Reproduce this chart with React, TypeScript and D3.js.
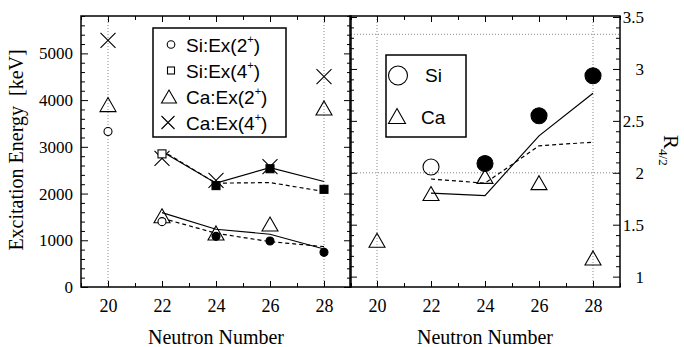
import React, { useEffect, useRef } from 'react';
import * as d3 from 'd3';

// experimental points
const neutrons = [20, 22, 24, 26, 28];
const siE2 = [3328, 1399, 1084, 986, 742];
const siFilled = [false, false, true, true, true];
const siE4N = [22, 24, 26, 28];
const siE4 = [2849, 2170, 2531, 2090];
const siE4Filled = [false, true, true, true];
const caE2 = [3904, 1525, 1157, 1347, 3832];
const caE4 = [5279, 2752, 2283, 2575, 4503];

// calculations (solid / dashed)
const theoryN = [22, 24, 26, 28];
const e2Solid = [1592, 1236, 1129, 814];
const e2Dashed = [1472, 1150, 971, 864];
const e4Solid = [2900, 2222, 2556, 2257];
const e4Dashed = [2920, 2222, 2235, 2043];

// R4/2 ratios
const siRN = [22, 24, 26, 28];
const siR = [2.055, 2.09, 2.55, 2.935];
const siRFilled = [false, true, true, true];
const caR = [1.35, 1.8, 1.965, 1.905, 1.18];
const rSolid = [1.805, 1.78, 2.356, 2.766];
const rDashed = [1.94, 1.9, 2.26, 2.295];
const rGuides = [2, 10 / 3];

const energyTicks = [0, 1000, 2000, 3000, 4000, 5000];
const ratioTicks = [1, 1.5, 2, 2.5, 3, 3.5];
const nTicks = [20, 22, 24, 26, 28];

const SERIF = '"Liberation Serif", "Times New Roman", serif';
const SANS = '"Liberation Sans", Arial, sans-serif';

function trianglePath(w: number, h: number) {
  return `M0,${-h / 2}L${w / 2},${h / 2}L${-w / 2},${h / 2}Z`;
}
function crossPath(s: number) {
  return `M${-s},${-s}L${s},${s}M${-s},${s}L${s},${-s}`;
}

export default function App() {
  const svgRef = useRef<SVGSVGElement>(null);

  useEffect(() => {
    if (!svgRef.current) return;
    const svg = d3.select(svgRef.current);
    svg.selectAll('*').remove();

    const top = 16, bottom = 287;
    const xL = d3.scaleLinear().domain([19, 29]).range([81, 351]);
    const xR = d3.scaleLinear().domain([19, 29]).range([350, 620]);
    const yE = d3.scaleLinear().domain([0, 5800]).range([bottom, top]);
    const yR = d3.scaleLinear().domain([0.9, 3.51]).range([bottom, top]);

    // guide lines
    const guides = svg.append('g')
      .attr('stroke', '#888').attr('stroke-width', 1).attr('stroke-dasharray', '1,2');
    [20, 28].forEach(n => {
      guides.append('line').attr('x1', xL(n)).attr('x2', xL(n)).attr('y1', top).attr('y2', bottom);
      guides.append('line').attr('x1', xR(n)).attr('x2', xR(n)).attr('y1', top).attr('y2', bottom);
    });
    rGuides.forEach(v => {
      guides.append('line').attr('x1', 351).attr('x2', 620).attr('y1', yR(v)).attr('y2', yR(v));
    });

    // axes helper: major + minor inward ticks
    const styleAxis = (g: any) => {
      g.select('.domain').remove();
      g.selectAll('line').attr('stroke', '#000').attr('stroke-width', 1);
      g.selectAll('text').attr('font-family', SERIF).attr('fill', '#000');
    };

    const panels = [
      { x: xL, y: yE, yTicks: energyTicks, yMinor: d3.range(0, 5801, 200), left: 81, right: 351 },
      { x: xR, y: yR, yTicks: ratioTicks, yMinor: d3.range(10, 36).map(d => d / 10), left: 350, right: 620 },
    ];

    panels.forEach((p, i) => {
      // bottom
      svg.append('g').attr('transform', `translate(0,${bottom})`)
        .call(d3.axisBottom(p.x).tickValues(nTicks).tickSize(-6).tickPadding(12).tickFormat(d3.format('d')))
        .call(styleAxis).selectAll('text').attr('font-size', 18);
      svg.append('g').attr('transform', `translate(0,${bottom})`)
        .call(d3.axisBottom(p.x).tickValues(d3.range(19, 30, 2)).tickSize(-4).tickFormat(() => ''))
        .call(styleAxis);
      // top
      svg.append('g').attr('transform', `translate(0,${top})`)
        .call(d3.axisTop(p.x).tickValues(nTicks).tickSize(-6).tickFormat(() => ''))
        .call(styleAxis);
      svg.append('g').attr('transform', `translate(0,${top})`)
        .call(d3.axisTop(p.x).tickValues(d3.range(19, 30, 2)).tickSize(-4).tickFormat(() => ''))
        .call(styleAxis);
      // left
      const lg = svg.append('g').attr('transform', `translate(${p.left},0)`)
        .call(d3.axisLeft(p.y).tickValues(p.yTicks).tickSize(-7).tickPadding(8)
          .tickFormat(i === 0 ? d3.format('d') : () => ''))
        .call(styleAxis);
      lg.selectAll('text').attr('font-size', 17);
      svg.append('g').attr('transform', `translate(${p.left},0)`)
        .call(d3.axisLeft(p.y).tickValues(p.yMinor.filter(v => !p.yTicks.includes(v))).tickSize(-4).tickFormat(() => ''))
        .call(styleAxis);
      // right
      const rg = svg.append('g').attr('transform', `translate(${p.right},0)`)
        .call(d3.axisRight(p.y).tickValues(p.yTicks).tickSize(-7)
          .tickFormat(i === 1 ? (d: any) => String(d) : () => ''))
        .call(styleAxis);
      rg.selectAll('text').attr('font-size', 17).attr('text-anchor', 'end').attr('x', 24);
      svg.append('g').attr('transform', `translate(${p.right},0)`)
        .call(d3.axisRight(p.y).tickValues(p.yMinor.filter(v => !p.yTicks.includes(v))).tickSize(-4).tickFormat(() => ''))
        .call(styleAxis);

      // frame
      svg.append('rect')
        .attr('x', p.left).attr('y', top)
        .attr('width', p.right - p.left).attr('height', bottom - top)
        .attr('fill', 'none').attr('stroke', '#000').attr('stroke-width', 1.5);

      // x title
      svg.append('text')
        .attr('x', (p.left + p.right) / 2).attr('y', 344)
        .attr('text-anchor', 'middle').attr('font-family', SERIF).attr('font-size', 20)
        .text('Neutron Number');
    });

    // y titles
    svg.append('text')
      .attr('transform', 'translate(23,150) rotate(-90)')
      .attr('text-anchor', 'middle').attr('font-family', SERIF).attr('font-size', 20)
      .text('Excitation Energy\u00a0 [keV]');
    const rt = svg.append('text')
      .attr('transform', 'translate(664,135) rotate(90)')
      .attr('font-family', SERIF).attr('font-size', 21);
    rt.append('tspan').text('R');
    rt.append('tspan').attr('font-size', 13).attr('dy', 5).text('4/2');

    // calculation lines
    const lineL = (vals: number[], yS: any, xS: any) =>
      d3.line<number>().x((_, i) => xS(theoryN[i])).y(d => yS(d))(vals);
    const lines = svg.append('g').attr('fill', 'none').attr('stroke', '#000').attr('stroke-width', 1.2);
    [e2Solid, e4Solid].forEach(v => lines.append('path').attr('d', lineL(v, yE, xL)));
    [e2Dashed, e4Dashed].forEach(v => lines.append('path').attr('d', lineL(v, yE, xL)).attr('stroke-dasharray', '4,3'));
    lines.append('path').attr('d', lineL(rSolid, yR, xR));
    lines.append('path').attr('d', lineL(rDashed, yR, xR)).attr('stroke-dasharray', '4,3');

    const marks = svg.append('g').attr('stroke', '#000').attr('stroke-width', 1.1);

    // left panel markers
    caE4.forEach((v, i) => marks.append('path')
      .attr('transform', `translate(${xL(neutrons[i])},${yE(v)})`)
      .attr('d', crossPath(7.5)).attr('fill', 'none'));
    caE2.forEach((v, i) => marks.append('path')
      .attr('transform', `translate(${xL(neutrons[i])},${yE(v)})`)
      .attr('d', trianglePath(16, 14)).attr('fill', 'none'));
    siE4.forEach((v, i) => marks.append('rect')
      .attr('x', xL(siE4N[i]) - 4).attr('y', yE(v) - 4).attr('width', 8).attr('height', 8)
      .attr('fill', siE4Filled[i] ? '#000' : '#fff'));
    siE2.forEach((v, i) => marks.append('circle')
      .attr('cx', xL(neutrons[i])).attr('cy', yE(v)).attr('r', 4)
      .attr('fill', siFilled[i] ? '#000' : '#fff'));

    // right panel markers
    caR.forEach((v, i) => marks.append('path')
      .attr('transform', `translate(${xR(neutrons[i])},${yR(v)})`)
      .attr('d', trianglePath(16, 14)).attr('fill', 'none'));
    siR.forEach((v, i) => marks.append('circle')
      .attr('cx', xR(siRN[i])).attr('cy', yR(v)).attr('r', 8)
      .attr('fill', siRFilled[i] ? '#000' : 'none'));

    // left legend
    const leg = svg.append('g');
    leg.append('rect').attr('x', 153).attr('y', 28).attr('width', 133).attr('height', 109)
      .attr('fill', '#fff').attr('stroke', '#000').attr('stroke-width', 1.5);
    const items = [
      { kind: 'circle', label: 'Si:Ex(', j: '2' },
      { kind: 'square', label: 'Si:Ex(', j: '4' },
      { kind: 'triangle', label: 'Ca:Ex(', j: '2' },
      { kind: 'cross', label: 'Ca:Ex(', j: '4' },
    ];
    items.forEach((it, i) => {
      const cy = 44.5 + i * 26;
      const g = leg.append('g').attr('stroke', '#000').attr('stroke-width', 1.1).attr('fill', 'none');
      if (it.kind === 'circle') g.append('circle').attr('cx', 171).attr('cy', cy).attr('r', 3.8);
      if (it.kind === 'square') g.append('rect').attr('x', 167.5).attr('y', cy - 3.5).attr('width', 7).attr('height', 7);
      if (it.kind === 'triangle') g.append('path').attr('transform', `translate(169,${cy})`).attr('d', trianglePath(15, 13));
      if (it.kind === 'cross') g.append('path').attr('transform', `translate(168,${cy})`).attr('d', crossPath(6.5));
      const t = leg.append('text').attr('x', 186).attr('y', cy + 7)
        .attr('font-family', SANS).attr('font-size', 19);
      t.append('tspan').text(it.label + it.j);
      t.append('tspan').attr('font-size', 11).attr('dy', -9).text('+');
      t.append('tspan').attr('dy', 9).text(')');
    });

    // right legend
    const leg2 = svg.append('g');
    leg2.append('rect').attr('x', 386).attr('y', 55).attr('width', 80).attr('height', 82)
      .attr('fill', '#fff').attr('stroke', '#000').attr('stroke-width', 1.5);
    leg2.append('circle').attr('cx', 398).attr('cy', 75.5).attr('r', 9.5)
      .attr('fill', 'none').attr('stroke', '#000').attr('stroke-width', 1.1);
    leg2.append('path').attr('transform', 'translate(397,116)').attr('d', trianglePath(17, 15))
      .attr('fill', 'none').attr('stroke', '#000').attr('stroke-width', 1.1);
    leg2.append('text').attr('x', 425).attr('y', 82).attr('font-family', SANS).attr('font-size', 19).text('Si');
    leg2.append('text').attr('x', 421).attr('y', 124).attr('font-family', SANS).attr('font-size', 19).text('Ca');
  }, []);

  return (
    <svg
      ref={svgRef}
      width={684}
      height={347}
      style={{ position: 'absolute', left: 0, top: 0, background: '#fff' }}
    />
  );
}
